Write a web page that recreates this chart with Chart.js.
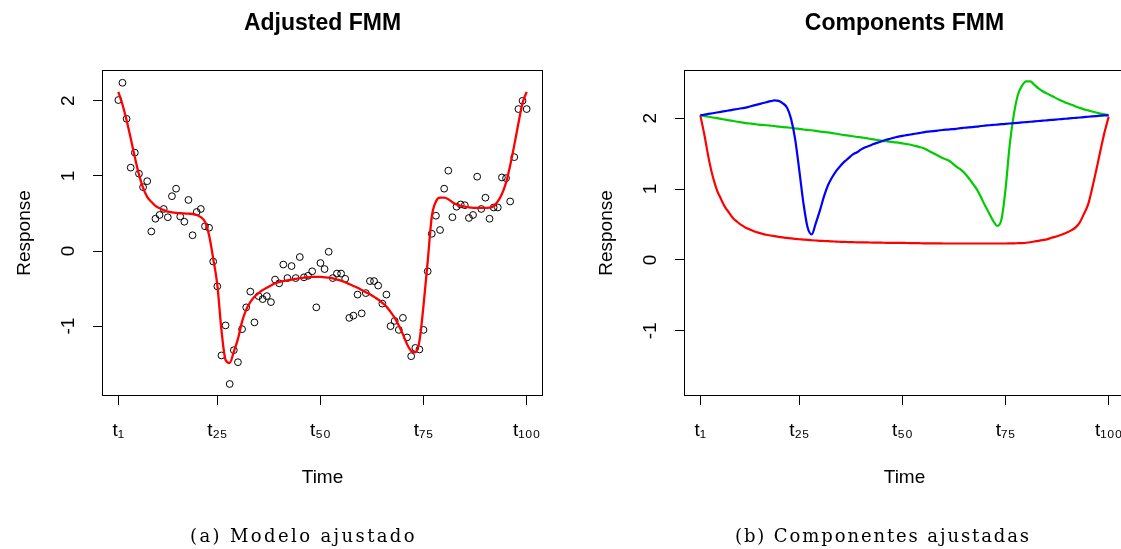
<!DOCTYPE html>
<html>
<head>
<meta charset="utf-8">
<script src="https://cdn.jsdelivr.net/npm/chart.js@4.4.0/dist/chart.umd.min.js"></script>
<style>
  html, body { margin:0; padding:0; background:#fff; width:1121px; height:549px; overflow:hidden; position:relative; }
  .wrap { position:absolute; top:0; width:560px; height:549px; }
  .cap { position:absolute; top:527px; font-family:"DejaVu Serif", "Liberation Serif", serif; font-size:18px; line-height:18px; color:#000; white-space:nowrap; }
</style>
</head>
<body>
<div class="wrap" style="left:0px"><canvas id="c1" width="560" height="549"></canvas></div>
<div class="wrap" style="left:582px"><canvas id="c2" width="560" height="549"></canvas></div>
<div class="cap" id="capA"></div>
<div class="cap" id="capB"></div>
<script>
// ---------- data ----------
const timeIndex = Array.from({length: 100}, (_, k) => k + 1);

const observed = [
  2.01, 2.24, 1.76, 1.11, 1.31, 1.03, 0.85, 0.93, 0.26, 0.43,
  0.48, 0.56, 0.45, 0.73, 0.83, 0.46, 0.39, 0.68, 0.21, 0.52,
  0.56, 0.33, 0.31, -0.14, -0.47, -1.39, -0.99, -1.77, -1.32, -1.48,
  -1.04, -0.75, -0.54, -0.95, -0.60, -0.64, -0.60, -0.68, -0.38, -0.43,
  -0.18, -0.36, -0.20, -0.36, -0.08, -0.35, -0.33, -0.27, -0.75, -0.16,
  -0.24, -0.01, -0.36, -0.30, -0.30, -0.37, -0.89, -0.86, -0.58, -0.83,
  -0.56, -0.40, -0.40, -0.46, -0.70, -0.58, -1.00, -0.93, -1.05, -0.89,
  -1.15, -1.40, -1.29, -1.31, -1.05, -0.27, 0.23, 0.47, 0.28, 0.83,
  1.07, 0.45, 0.59, 0.62, 0.61, 0.44, 0.48, 0.99, 0.56, 0.71,
  0.43, 0.58, 0.58, 0.98, 0.97, 0.66, 1.25, 1.89, 2.00, 1.89
];

const fitted = [
  2.12, 1.95, 1.74, 1.50, 1.25, 1.02, 0.84, 0.72, 0.655, 0.60,
  0.57, 0.545, 0.525, 0.515, 0.508, 0.503, 0.50, 0.497, 0.493, 0.48,
  0.45, 0.39, 0.21, -0.10, -0.45, -1.05, -1.45, -1.49, -1.34, -1.17,
  -0.94, -0.78, -0.68, -0.61, -0.56, -0.52, -0.49, -0.46, -0.43, -0.41,
  -0.40, -0.39, -0.38, -0.37, -0.36, -0.355, -0.35, -0.345, -0.345, -0.345,
  -0.35, -0.355, -0.365, -0.38, -0.395, -0.415, -0.44, -0.465, -0.49, -0.52,
  -0.55, -0.575, -0.61, -0.645, -0.69, -0.74, -0.81, -0.89, -0.99, -1.11,
  -1.24, -1.33, -1.35, -1.20, -0.72, -0.14, 0.46, 0.66, 0.71, 0.71,
  0.69, 0.65, 0.62, 0.60, 0.59, 0.58, 0.575, 0.575, 0.575, 0.575,
  0.578, 0.60, 0.66, 0.76, 0.91, 1.14, 1.41, 1.70, 1.97, 2.12
];

const compRed = [
  2.04, 1.76, 1.44, 1.18, 0.99, 0.86, 0.745, 0.665, 0.585, 0.535,
  0.49, 0.455, 0.43, 0.405, 0.385, 0.37, 0.355, 0.345, 0.335, 0.325,
  0.317, 0.31, 0.303, 0.297, 0.292, 0.287, 0.282, 0.278, 0.274, 0.27,
  0.267, 0.264, 0.261, 0.258, 0.256, 0.254, 0.252, 0.25, 0.249, 0.248,
  0.247, 0.246, 0.245, 0.244, 0.243, 0.242, 0.242, 0.241, 0.24, 0.24,
  0.239, 0.238, 0.237, 0.236, 0.235, 0.234, 0.234, 0.233, 0.233, 0.232,
  0.232, 0.232, 0.232, 0.232, 0.232, 0.232, 0.232, 0.232, 0.232, 0.232,
  0.232, 0.232, 0.232, 0.232, 0.232, 0.233, 0.234, 0.236, 0.238, 0.242,
  0.25, 0.26, 0.27, 0.28, 0.29, 0.31, 0.325, 0.345, 0.365, 0.39,
  0.42, 0.46, 0.53, 0.65, 0.78, 1.01, 1.27, 1.54, 1.80, 2.02
];

const compBlue = [
  2.04, 2.05, 2.06, 2.07, 2.08, 2.09, 2.10, 2.11, 2.12, 2.13,
  2.14, 2.15, 2.165, 2.18, 2.195, 2.21, 2.225, 2.24, 2.25, 2.245,
  2.21, 2.15, 1.99, 1.70, 1.26, 0.80, 0.46, 0.36, 0.52, 0.70,
  0.90, 1.06, 1.17, 1.26, 1.33, 1.39, 1.44, 1.49, 1.52, 1.56,
  1.59, 1.61, 1.635, 1.655, 1.675, 1.695, 1.71, 1.725, 1.74, 1.75,
  1.76, 1.77, 1.78, 1.79, 1.80, 1.81, 1.815, 1.82, 1.83, 1.835,
  1.84, 1.845, 1.85, 1.86, 1.865, 1.87, 1.875, 1.88, 1.89, 1.895,
  1.90, 1.905, 1.91, 1.915, 1.92, 1.925, 1.93, 1.935, 1.94, 1.945,
  1.95, 1.955, 1.96, 1.965, 1.97, 1.975, 1.98, 1.985, 1.99, 1.995,
  2.00, 2.005, 2.01, 2.015, 2.02, 2.025, 2.03, 2.035, 2.04, 2.04
];

const compGreen = [
  2.04, 2.03, 2.02, 2.01, 2.00, 1.99, 1.98, 1.97, 1.96, 1.95,
  1.94, 1.93, 1.925, 1.92, 1.91, 1.905, 1.90, 1.895, 1.89, 1.88,
  1.875, 1.87, 1.865, 1.855, 1.85, 1.84, 1.835, 1.83, 1.82, 1.81,
  1.805, 1.80, 1.79, 1.78, 1.77, 1.76, 1.755, 1.745, 1.735, 1.73,
  1.72, 1.71, 1.70, 1.69, 1.68, 1.675, 1.67, 1.66, 1.655, 1.645,
  1.635, 1.625, 1.61, 1.595, 1.58, 1.55, 1.52, 1.49, 1.46, 1.43,
  1.41, 1.37, 1.32, 1.28, 1.23, 1.16, 1.08, 1.00, 0.89, 0.77,
  0.66, 0.55, 0.48, 0.57, 1.00, 1.62, 2.05, 2.33, 2.46, 2.52,
  2.52, 2.47, 2.42, 2.38, 2.35, 2.32, 2.29, 2.26, 2.235, 2.21,
  2.19, 2.165, 2.145, 2.125, 2.11, 2.095, 2.08, 2.065, 2.055, 2.045
];

const xTickValues = [1, 25, 50, 75, 100];
const xTickLabels = ['t\u2081', 't\u2082\u2085', 't\u2085\u2080', 't\u2087\u2085', 't\u2081\u2080\u2080'];
const yTickValues = [-1, 0, 1, 2];
const yTickLabels = ['-1', '0', '1', '2'];
const titles = ['Adjusted FMM', 'Components FMM'];
const xTitle = 'Time';
const yTitle = 'Response';
const captions = ['(a) Modelo ajustado', '(b) Componentes ajustadas'];

// ---------- helpers ----------
const FONT = "'Liberation Sans', Arial, Helvetica, sans-serif";
function pts(vals) { return timeIndex.map((t, k) => ({x: t, y: vals[k]})); }

const framePlugin = {
  id: 'frame',
  afterDraw(chart) {
    const {ctx, chartArea: a} = chart;
    ctx.save();
    ctx.strokeStyle = '#000';
    ctx.lineWidth = 1;
    ctx.strokeRect(Math.round(a.left) + 0.5, Math.round(a.top) + 0.5,
                   Math.round(a.right - a.left) - 1, Math.round(a.bottom - a.top) - 1);
    ctx.restore();
  }
};

function axisGrid() {
  return { drawOnChartArea: false, drawTicks: true, tickLength: 9, color: '#000', tickColor: '#000', lineWidth: 1 };
}

function makeOptions(title, yMin, yMax) {
  return {
    responsive: false,
    animation: false,
    devicePixelRatio: 1,
    layout: { padding: { left: 0, right: 17, top: 0, bottom: 0 } },
    plugins: {
      legend: { display: false },
      tooltip: { enabled: false },
      title: {
        display: true, text: title, fullSize: false, color: '#000',
        font: { family: FONT, size: 23, weight: 'bold', lineHeight: 1.2 },
        padding: { top: 10.2, bottom: 32.2 }
      }
    },
    scales: {
      x: {
        type: 'linear', min: -2.96, max: 103.96,
        afterBuildTicks: s => { s.ticks = xTickValues.map(v => ({value: v})); },
        afterFit: s => { s.height = 153; },
        ticks: {
          callback: (v, i) => xTickLabels[i], color: '#000',
          font: { family: FONT, size: 19 }, padding: 14,
          minRotation: 0, maxRotation: 0, autoSkip: false
        },
        grid: axisGrid(),
        border: { display: false },
        title: {
          display: true, text: xTitle, color: '#000',
          font: { family: FONT, size: 19, lineHeight: 1.2 },
          padding: { top: 0, bottom: 59.6 }
        }
      },
      y: {
        type: 'linear', min: yMin, max: yMax,
        afterBuildTicks: s => { s.ticks = yTickValues.map(v => ({value: v})); },
        afterFit: s => { s.width = 102; },
        ticks: {
          callback: (v, i) => yTickLabels[i], color: '#000',
          font: { family: FONT, size: 19 }, padding: 15.5,
          minRotation: 90, maxRotation: 90, crossAlign: 'center', autoSkip: false
        },
        grid: axisGrid(),
        border: { display: false },
        title: {
          display: true, text: yTitle, color: '#000',
          font: { family: FONT, size: 19, lineHeight: 1.2 },
          padding: { top: 13.1, bottom: 0 }
        }
      }
    }
  };
}

// ---------- left chart ----------
new Chart(document.getElementById('c1'), {
  type: 'line',
  data: {
    datasets: [
      { type: 'line', data: pts(fitted), borderColor: '#FF0000', borderWidth: 2.3,
        pointRadius: 0, cubicInterpolationMode: 'monotone', fill: false, order: 0 },
      { type: 'scatter', data: pts(observed), showLine: false, pointStyle: 'circle',
        pointRadius: 3.4, borderColor: '#000', backgroundColor: 'rgba(0,0,0,0)',
        borderWidth: 1, order: 1 }
    ]
  },
  options: makeOptions(titles[0], -1.93, 2.41),
  plugins: [framePlugin]
});

// ---------- right chart ----------
new Chart(document.getElementById('c2'), {
  type: 'line',
  data: {
    datasets: [
      { data: pts(compBlue), borderColor: '#0000FF', borderWidth: 2.2, pointRadius: 0,
        cubicInterpolationMode: 'monotone', fill: false, order: 0 },
      { data: pts(compGreen), borderColor: '#00CD00', borderWidth: 2.2, pointRadius: 0,
        cubicInterpolationMode: 'monotone', fill: false, order: 1 },
      { data: pts(compRed), borderColor: '#FF0000', borderWidth: 2.2, pointRadius: 0,
        cubicInterpolationMode: 'monotone', fill: false, order: 2 }
    ]
  },
  options: makeOptions(titles[1], -1.92, 2.68),
  plugins: [framePlugin]
});

// ---------- captions ----------
function placeCaption(el, text, left, width) {
  el.textContent = text;
  el.style.letterSpacing = '0px';
  const w = el.getBoundingClientRect().width;
  const n = text.length;
  el.style.letterSpacing = Math.max(0, (width - w) / n) + 'px';
  el.style.left = left + 'px';
}
placeCaption(document.getElementById('capA'), captions[0], 190, 227);
placeCaption(document.getElementById('capB'), captions[1], 735, 296);
</script>
</body>
</html>
